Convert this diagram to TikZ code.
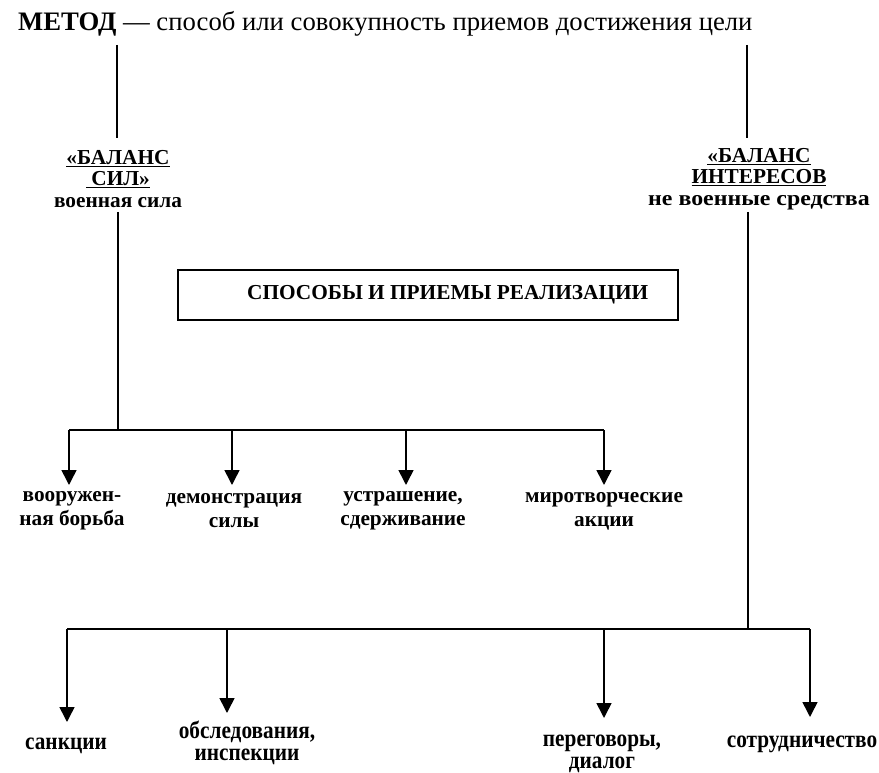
\documentclass[tikz,border=0pt]{standalone}
\usepackage{fontspec}
\setmainfont{Liberation Serif}
\usetikzlibrary{arrows.meta}
\newcommand{\tallbox}[1]{\scalebox{1}[1.15]{\begin{tabular}{@{}c@{}}#1\end{tabular}}}
\begin{document}
\begin{tikzpicture}[x=1pt,y=-1pt,
  ln/.style={line width=1.6pt},
  arr/.style={ln,-{Triangle[width=15pt,length=15pt]}},
  lbl/.style={font=\bfseries\fontsize{21.3}{21.5}\selectfont, align=center, inner sep=0pt},
  rowlbl/.style={font=\bfseries\fontsize{21.3}{24}\selectfont, align=center, inner sep=0pt},
  blbl/.style={font=\bfseries\fontsize{21.3}{19.5}\selectfont, inner sep=0pt},
  boxst/.style={draw, line width=1.6pt, inner sep=0pt}]
\useasboundingbox (0,0) rectangle (879,773);
% title
\node[anchor=base west, inner sep=0pt, font=\fontsize{26.7}{30}\selectfont] (title) at (18,31)
  {\textbf{МЕТОД} — способ или совокупность приемов достижения цели};
\coordinate (tl) at (117,45);
\coordinate (tr) at (747,45);
\coordinate (tlb) at (117,138);
\coordinate (trb) at (747,138);
% top-level labels
\node[lbl] (bs) at (118,179) {\underline{«БАЛАНС}\\\underline{\ СИЛ»}\\военная сила};
\node[lbl] (bi) at (759,179) {\underline{«БАЛАНС}\\\underline{ИНТЕРЕСОВ}\\\scalebox{1.12}[1]{не военные средства}};
\draw[ln] (tl) -- (tlb);
\draw[ln] (tr) -- (trb);
% box
\coordinate (boxa) at (178,270);
\coordinate (boxb) at (678,320);
\draw[boxst] (boxa) rectangle (boxb);
\node[lbl, anchor=west] (boxt) at (247,295) {СПОСОБЫ И ПРИЕМЫ РЕАЛИЗАЦИИ};
% left branch
\coordinate (ls) at (118,212);
\coordinate (lj) at (118,430);
\coordinate (l1) at (69,430);
\coordinate (l2) at (232,430);
\coordinate (l3) at (406,430);
\coordinate (l4) at (604,430);
\coordinate (l1t) at (69,485);
\coordinate (l2t) at (232,485);
\coordinate (l3t) at (406,485);
\coordinate (l4t) at (604,485);
\draw[ln] (ls) -- (lj);
\draw[ln] (l1) -- (l4);
\draw[arr] (l1) -- (l1t);
\draw[arr] (l2) -- (l2t);
\draw[arr] (l3) -- (l3t);
\draw[arr] (l4) -- (l4t);
\node[rowlbl] (a1) at (72,511) {вооружен-\\ная борьба};
\node[rowlbl] (a2) at (234,511) {демонстрация\\силы};
\node[rowlbl] (a3) at (403,511) {устрашение,\\сдерживание};
\node[rowlbl] (a4) at (604,511) {миротворческие\\акции};
% right branch
\coordinate (rs) at (748,212);
\coordinate (rj) at (748,629);
\coordinate (r1) at (67,629);
\coordinate (r2) at (227,629);
\coordinate (r3) at (604,629);
\coordinate (r4) at (810,629);
\coordinate (r1t) at (67,722);
\coordinate (r2t) at (227,713);
\coordinate (r3t) at (604,718);
\coordinate (r4t) at (810,717);
\draw[ln] (rs) -- (rj);
\draw[ln] (r1) -- (r4);
\draw[arr] (r1) -- (r1t);
\draw[arr] (r2) -- (r2t);
\draw[arr] (r3) -- (r3t);
\draw[arr] (r4) -- (r4t);
\node[blbl] (b1) at (66,745) {\tallbox{санкции}};
\node[blbl] (b2) at (247,744) {\tallbox{обследования,\\инспекции}};
\node[blbl] (b3) at (602,753) {\tallbox{переговоры,\\диалог}};
\node[blbl] (b4) at (802,743) {\tallbox{сотрудничество}};
\end{tikzpicture}
\end{document}
